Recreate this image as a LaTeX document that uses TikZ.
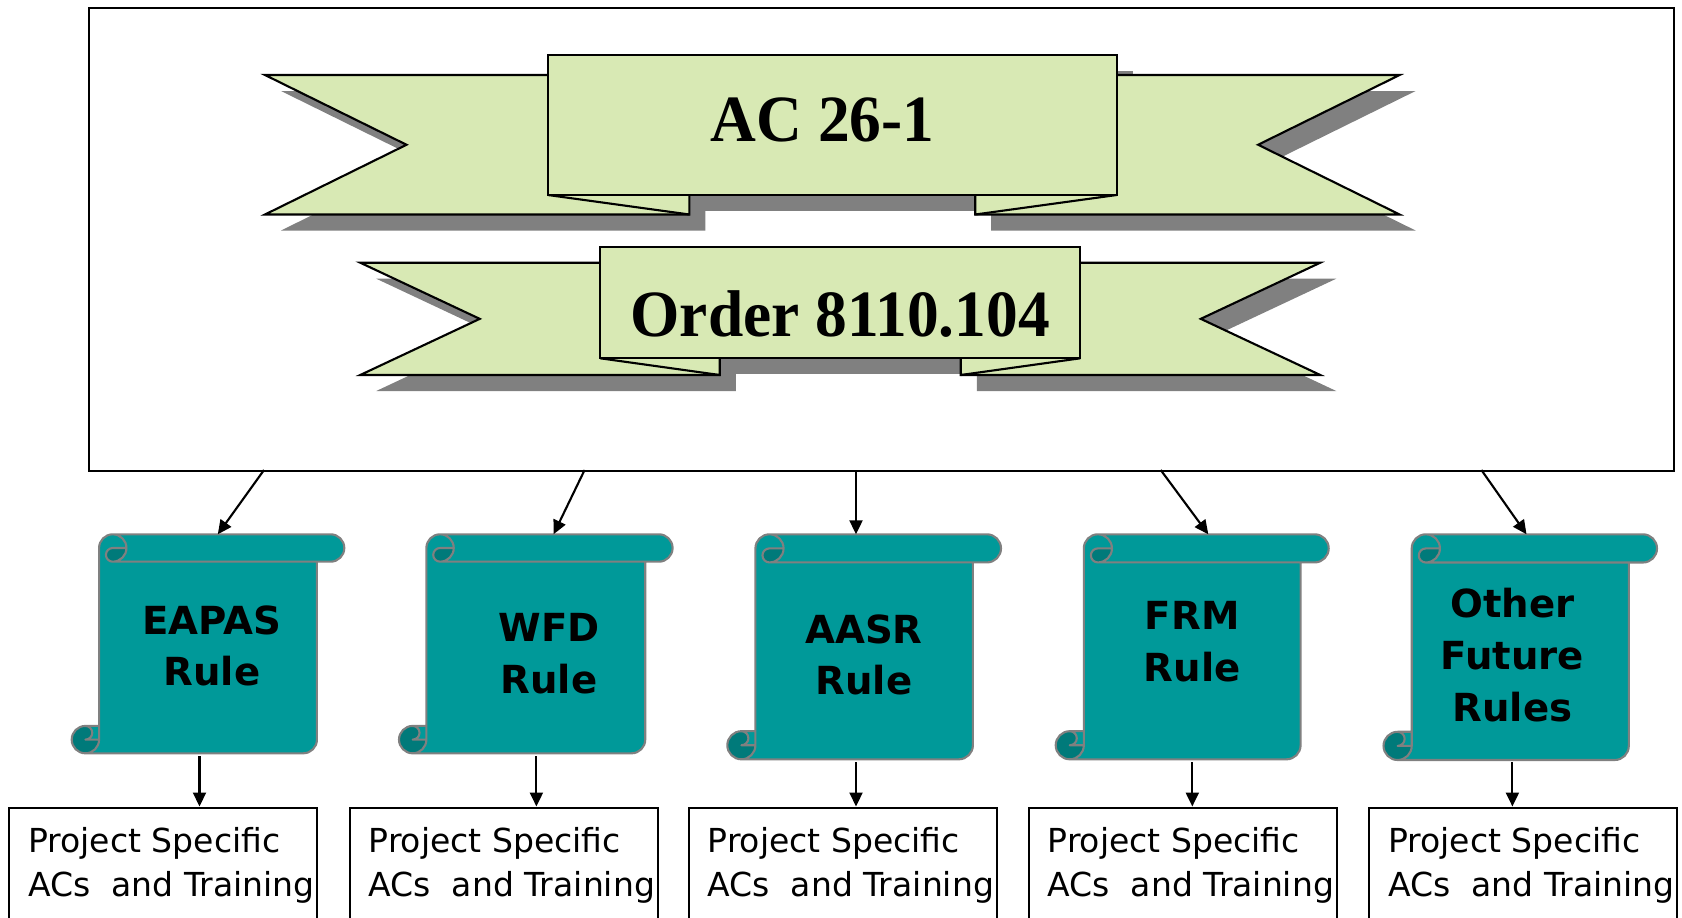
\documentclass[tikz,border=0pt]{standalone}
\usepackage{fontspec}
\usetikzlibrary{arrows.meta}

\newfontfamily\rulefont{DejaVu Sans}
\newfontfamily\bannerfont[FakeStretch=0.96]{Liberation Serif}

\definecolor{ribbongreen}{RGB}{216,233,180}
\definecolor{ribbonshade}{RGB}{128,128,128}
\definecolor{scrollteal}{RGB}{0,153,153}
\definecolor{scrolldark}{RGB}{0,122,122}
\definecolor{scrolledge}{RGB}{128,128,128}

% ribbon: centre, box half width, box top, box bottom, tail top, tail bottom, tip reach, notch
\newcommand{\drawribbon}[8]{%
  \begin{scope}[shift={(16,16)}]
    \fill[ribbonshade] (#1-#7,#5) -- (#1-#7+#8,{(#5+#6)/2}) -- (#1-#7,#6) -- (#1-#2+#8,#6) -- (#1-#2+#8,#5) -- cycle;
    \fill[ribbonshade] (#1+#7,#5) -- (#1+#7-#8,{(#5+#6)/2}) -- (#1+#7,#6) -- (#1+#2-#8,#6) -- (#1+#2-#8,#5) -- cycle;
    \fill[ribbonshade] (#1-#2,#3) rectangle (#1+#2,#4);
  \end{scope}
  \filldraw[ribbon] (#1-#7,#5) -- (#1-#7+#8,{(#5+#6)/2}) -- (#1-#7,#6) -- (#1-#2+#8,#6) -- (#1-#2+#8,#5) -- cycle;
  \filldraw[ribbon] (#1+#7,#5) -- (#1+#7-#8,{(#5+#6)/2}) -- (#1+#7,#6) -- (#1+#2-#8,#6) -- (#1+#2-#8,#5) -- cycle;
  \draw[ribbon] (#1-#2,#4) -- (#1-#2+#8,#6);
  \draw[ribbon] (#1+#2,#4) -- (#1+#2-#8,#6);
  \filldraw[ribbon] (#1-#2,#3) rectangle (#1+#2,#4);
}

% vertical scroll: left, top, right, bottom
\newcommand{\drawscroll}[4]{%
  \pgfmathsetmacro\scL{#1}\pgfmathsetmacro\scT{#2}%
  \pgfmathsetmacro\scR{#3}\pgfmathsetmacro\scB{#4}%
  \pgfmathsetmacro\scC{0.125*min(\scR-\scL,\scB-\scT)}%
  \pgfmathsetmacro\scH{\scC/2}%
  \pgfmathsetmacro\scQ{\scC/4}%
  \fill[scrollteal] (\scL+\scC,\scB-\scC) -- (\scL+\scC,\scT+\scH)
    arc[start angle=180,end angle=270,radius=\scH] -- (\scR-\scH,\scT)
    arc[start angle=270,end angle=450,radius=\scH] -- (\scR-\scC,\scT+\scC) -- (\scR-\scC,\scB-\scH)
    arc[start angle=0,end angle=90,radius=\scH] -- (\scL+\scH,\scB)
    arc[start angle=90,end angle=270,radius=\scH] -- cycle;
  \fill[scrolldark] (\scL+2*\scC,\scT+\scH) arc[start angle=0,end angle=90,radius=\scH]
    arc[start angle=90,end angle=270,radius=\scQ] -- cycle;
  \fill[scrolldark] (\scL+\scC,\scB-\scH) arc[start angle=0,end angle=270,radius=\scH]
    arc[start angle=270,end angle=450,radius=\scQ] -- cycle;
  \draw[scroll line] (\scL+\scC,\scB-\scC) -- (\scL+\scC,\scT+\scH)
    arc[start angle=180,end angle=270,radius=\scH] -- (\scR-\scH,\scT)
    arc[start angle=270,end angle=450,radius=\scH] -- (\scR-\scC,\scT+\scC) -- (\scR-\scC,\scB-\scH)
    arc[start angle=0,end angle=90,radius=\scH] -- (\scL+\scH,\scB)
    arc[start angle=90,end angle=270,radius=\scH] -- cycle
    (\scL+\scC+\scH,\scT) arc[start angle=270,end angle=450,radius=\scH]
    arc[start angle=90,end angle=270,radius=\scQ] -- (\scL+2*\scC,\scT+\scH)
    (\scR-\scC,\scT+\scC) -- (\scL+\scC+\scH,\scT+\scC)
    (\scL+\scH,\scB-\scC) arc[start angle=270,end angle=450,radius=\scQ] -- (\scL+\scC,\scB-\scH)
    (\scL+\scH,\scB) arc[start angle=90,end angle=0,radius=\scH] -- (\scL+\scC,\scB-\scC);
}

\begin{document}
\begin{tikzpicture}[
  x=0.1mm, y=-0.1mm,
  >={Triangle[length=1.4mm,width=1.3mm]},
  line width=0.6pt,
  ribbon/.style={draw=black,fill=ribbongreen,line width=0.6pt},
  scroll line/.style={draw=scrolledge,line width=0.6pt,line join=round},
  frame box/.style={draw=black,line width=0.6pt,inner sep=0pt,anchor=north west},
  banner text/.style={font={\bannerfont\bfseries\fontsize{18.8pt}{22pt}\selectfont},inner sep=0pt,anchor=base},
  rule text/.style={font={\rulefont\bfseries\fontsize{11pt}{14.7pt}\selectfont},align=center,inner sep=0pt},
  doc box/.style={draw=black,line width=0.6pt,minimum width=30.8mm,minimum height=16mm,anchor=north west,inner sep=0pt},
  doc text/.style={font={\rulefont\fontsize{9.4pt}{12.5pt}\selectfont},align=left,anchor=north west,inner xsep=1.9mm,inner ysep=2.0mm},
]
\useasboundingbox (0,0) rectangle (1682,917);

\node[frame box,minimum width=158.47mm,minimum height=46.35mm] (frame) at (88,6.5) {};

\drawribbon{832.3}{284.4}{54.7}{195}{75}{214.5}{567.3}{141.5}
\drawribbon{840.25}{240}{246.7}{358.3}{262.7}{375}{480}{119.5}
\node[banner text] (ac) at (822.5,141) {AC 26-1};
\node[banner text] (order) at (840.25,336) {Order 8110.104};

\drawscroll{71.7}{534.3}{344.3}{753.3}
\drawscroll{399}{534.3}{672.6}{753.3}
\drawscroll{727.3}{534.3}{1001}{759.3}
\drawscroll{1055.7}{534.3}{1328.7}{759.3}
\drawscroll{1383.5}{534.3}{1657}{760}
\node[rule text] (eapas) at (212,646) {EAPAS\\Rule};
\node[rule text] (wfd) at (549,653.5) {WFD\\Rule};
\node[rule text] (aasr) at (864,655) {AASR\\Rule};
\node[rule text] (frm) at (1192.3,641.5) {FRM\\Rule};
\node[rule text] (future) at (1512.5,655) {Other\\Future\\Rules};

\node[doc box] (p1) at (8.3,806.5) {};
\node[doc box] (p2) at (348.6,806.5) {};
\node[doc box] (p3) at (687.6,806.5) {};
\node[doc box] (p4) at (1027.6,806.5) {};
\node[doc box] (p5) at (1368.3,806.5) {};
\node[doc text] (t1) at (p1.north west) {Project Specific\\ACs~~and Training};
\node[doc text] (t2) at (p2.north west) {Project Specific\\ACs~~and Training};
\node[doc text] (t3) at (p3.north west) {Project Specific\\ACs~~and Training};
\node[doc text] (t4) at (p4.north west) {Project Specific\\ACs~~and Training};
\node[doc text] (t5) at (p5.north west) {Project Specific\\ACs~~and Training};

\coordinate (f1) at (264,470);
\coordinate (f2) at (584.6,470);
\coordinate (f3) at (856,470);
\coordinate (f4) at (1160.7,470);
\coordinate (f5) at (1481.4,470);
\coordinate (s1in) at (217.8,534.3);
\coordinate (s2in) at (553.5,534.3);
\coordinate (s3in) at (856,534.3);
\coordinate (s4in) at (1208.3,534.3);
\coordinate (s5in) at (1526.5,534.3);
\coordinate (s1out) at (199.5,756);
\coordinate (s2out) at (536.4,756);
\coordinate (s3out) at (856,762);
\coordinate (s4out) at (1192.3,762);
\coordinate (s5out) at (1512.4,762);

\draw[->] (f1) -- (s1in);
\draw[->] (f2) -- (s2in);
\draw[->] (f3) -- (s3in);
\draw[->] (f4) -- (s4in);
\draw[->] (f5) -- (s5in);
\draw[->] (s1out) -- (p1.north -| s1out);
\draw[->] (s2out) -- (p2.north -| s2out);
\draw[->] (s3out) -- (p3.north -| s3out);
\draw[->] (s4out) -- (p4.north -| s4out);
\draw[->] (s5out) -- (p5.north -| s5out);
\end{tikzpicture}
\end{document}
